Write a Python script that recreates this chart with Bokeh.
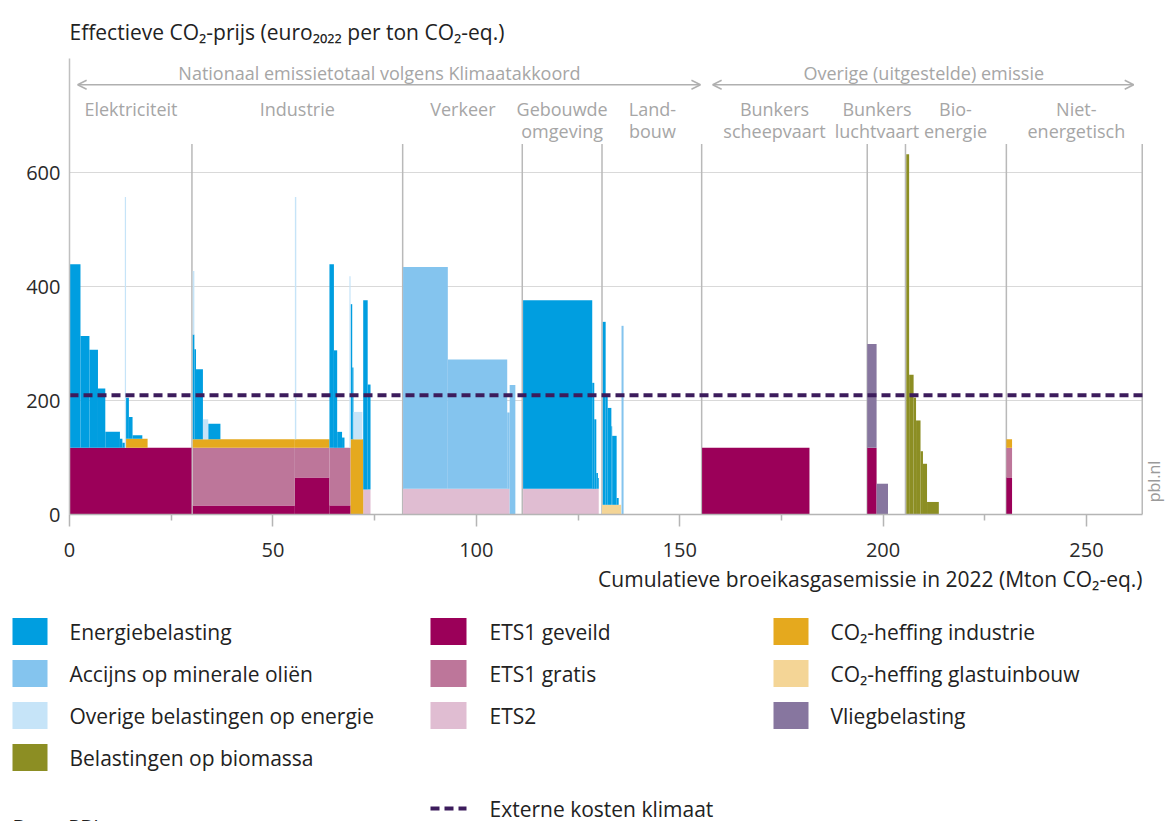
from bokeh.plotting import figure
from bokeh.models import Range1d, Arrow, OpenHead, FixedTicker
from bokeh.embed import file_html
from bokeh.resources import INLINE
from bokeh.core.properties import value

FONT = "Open Sans"

# ---------------- data: (start Mton, end Mton, effective price euro/t CO2-eq) ----------------
ets1_geveild = [(0.0, 30.0, 117), (30.3, 55.4, 16), (55.4, 63.9, 65), (63.9, 69.1, 16),
                (155.5, 181.9, 117), (196.1, 198.4, 117), (230.3, 231.7, 65)]
ets1_gratis = [(30.3, 55.4, 101), (55.4, 63.9, 52), (63.9, 69.1, 101), (230.3, 231.7, 52)]
ets2 = [(72.2, 74.0, 44), (82.0, 108.2, 45), (111.5, 130.1, 45)]
co2_heffing_industrie = [(13.9, 19.2, 16), (30.3, 63.9, 15), (69.1, 72.2, 132), (230.3, 231.7, 15)]
co2_heffing_glastuinbouw = [(130.9, 135.6, 17)]
vliegbelasting = [(196.1, 198.4, 182), (198.4, 201.2, 54)]
energiebelasting = [
    (0.0, 2.7, 322), (2.7, 4.9, 196), (4.9, 7.0, 172), (7.0, 8.8, 104), (8.8, 12.4, 28),
    (12.4, 13.0, 16), (13.0, 13.6, 9), (13.9, 14.6, 72), (14.6, 15.5, 38), (15.5, 17.9, 6),
    (30.3, 30.7, 184), (30.7, 31.1, 158), (31.1, 32.8, 123), (34.1, 37.1, 27),
    (63.9, 65.0, 322), (65.0, 65.8, 171), (65.8, 67.0, 28), (67.0, 67.6, 18),
    (69.1, 69.5, 237), (69.5, 69.8, 126), (72.2, 73.3, 332), (73.3, 74.0, 184),
    (111.5, 128.5, 331), (128.5, 129.0, 186), (129.0, 129.5, 122), (129.5, 129.9, 28),
    (129.9, 130.1, 19),
    (131.1, 131.8, 321), (131.8, 132.3, 194), (132.3, 133.2, 170), (133.2, 133.4, 138),
    (133.4, 134.5, 121), (134.5, 135.0, 12),
]
accijns_minerale_olien = [(82.0, 93.0, 389), (93.0, 107.6, 227), (107.6, 108.2, 134),
                          (108.2, 109.6, 227), (135.7, 136.2, 331)]
overige_belastingen = [(13.6, 13.9, 440), (30.3, 30.7, 111), (32.8, 34.1, 35),
                       (55.4, 55.75, 425), (68.8, 69.1, 301), (69.8, 72.0, 48)]
belastingen_biomassa = [(205.7, 206.4, 632), (206.4, 207.5, 245), (207.5, 208.1, 205),
                        (208.1, 209.2, 165), (209.2, 209.8, 111), (209.8, 210.8, 89),
                        (210.8, 213.7, 22)]
externe_kosten_klimaat = 209

x_end = 263.8          # right end of the axis (Mton)
y_end = 800            # top of the axis (euro)
sector_bounds = [30.1, 81.9, 111.3, 130.9, 155.4, 196.1, 205.5, 230.3, 263.7]
sector_line1 = ["Elektriciteit", "Industrie", "Verkeer", "Gebouwde", "Land-", "Bunkers",
                "Bunkers", "Bio-", "Niet-"]
sector_line2 = ["", "", "", "omgeving", "bouw", "scheepvaart", "luchtvaart", "energie",
                "energetisch"]
sector_center = [15.1, 56.0, 96.7, 121.1, 143.3, 173.3, 198.5, 217.8, 247.5]
group_labels = ["Nationaal emissietotaal volgens Klimaatakkoord", "Overige (uitgestelde) emissie"]
group_center = [76.2, 210.0]
group_span = [(2.0, 155.1), (158.1, 261.6)]

x_ticks = [0, 50, 100, 150, 200, 250]
x_minor = [25, 75, 125, 175, 225]
y_ticks = [0, 200, 400, 600]
grid_ticks = [200, 400, 600]

# stacking order (bottom to top), legend label, colour
series = [
    ("ETS1 geveild", ets1_geveild, "#9b0059"),
    ("ETS1 gratis", ets1_gratis, "#bd769a"),
    ("ETS2", ets2, "#e0bdd2"),
    ("CO₂-heffing industrie", co2_heffing_industrie, "#e5a91e"),
    ("CO₂-heffing glastuinbouw", co2_heffing_glastuinbouw, "#f4d596"),
    ("Vliegbelasting", vliegbelasting, "#87769f"),
    ("Energiebelasting", energiebelasting, "#009ee0"),
    ("Accijns op minerale oliën", accijns_minerale_olien, "#84c4ee"),
    ("Overige belastingen op energie", overige_belastingen, "#c6e4f8"),
    ("Belastingen op biomassa", belastingen_biomassa, "#8c8e23"),
]
color_of = {name: c for name, _, c in series}

W = 1167
PX_X = 4.068   # px per Mton
PX_Y = 0.57    # px per euro
FRAME_L, FRAME_B = 69, 514
H1 = 565
p = figure(width=W, height=H1,
           x_range=Range1d(0, (W - FRAME_L) / PX_X), y_range=Range1d(0, FRAME_B / PX_Y),
           output_backend="svg", toolbar_location=None,
           min_border_left=FRAME_L, min_border_right=0, min_border_top=0,
           min_border_bottom=H1 - FRAME_B)
p.outline_line_color = None
p.grid.grid_line_color = None

p.xaxis.bounds = (0, x_end)
p.xaxis.ticker = FixedTicker(ticks=x_ticks, minor_ticks=x_minor)
p.xaxis.major_tick_out = 12
p.xaxis.major_tick_in = 0
p.xaxis.minor_tick_out = 6
p.xaxis.minor_tick_in = 0
p.xaxis.axis_line_color = "#b5b5b5"
p.xaxis.axis_line_width = 1.5
p.xaxis.major_tick_line_color = "#b5b5b5"
p.xaxis.minor_tick_line_color = "#b5b5b5"
p.xaxis.major_tick_line_width = 1.5
p.xaxis.minor_tick_line_width = 1.5
p.xaxis.major_label_standoff = 16

p.yaxis.bounds = (0, y_end)
p.yaxis.ticker = FixedTicker(ticks=y_ticks)
p.yaxis.major_tick_out = 0
p.yaxis.major_tick_in = 0
p.yaxis.minor_tick_line_color = None
p.yaxis.major_tick_line_color = None
p.yaxis.axis_line_color = "#c0c0c0"
p.yaxis.axis_line_width = 1.5
p.yaxis.major_label_standoff = 9
for ax in (p.xaxis, p.yaxis):
    ax.major_label_text_font = FONT
    ax.major_label_text_font_size = "20px"
    ax.major_label_text_color = "#2a2a2a"

# horizontal grid lines and sector separators (behind bars)
p.segment(x0=[0] * len(grid_ticks), x1=[x_end] * len(grid_ticks), y0=grid_ticks, y1=grid_ticks,
          line_color="#d9d9d9", line_width=1.2)
p.segment(x0=sector_bounds, x1=sector_bounds, y0=[0] * len(sector_bounds),
          y1=[650] * len(sector_bounds), line_color="#b9b9b9", line_width=1.5)

# stacked step bars
placed = []


def stack_height(xm):
    h = 0
    for a, b, t in placed:
        if a <= xm < b:
            h = max(h, t)
    return h


for name, ivs, color in series:
    L, R, B, T = [], [], [], []
    for x0, x1, v in ivs:
        cuts = sorted(set([x0, x1] + [c for a, b, _ in placed for c in (a, b) if x0 < c < x1]))
        for a, b in zip(cuts[:-1], cuts[1:]):
            base = stack_height((a + b) / 2)
            L.append(a); R.append(b); B.append(base); T.append(base + v)
    placed.extend(zip(L, R, T))
    p.quad(left=L, right=R, bottom=B, top=T, fill_color=color, line_color=None)

p.segment(x0=[0], x1=[x_end], y0=[externe_kosten_klimaat], y1=[externe_kosten_klimaat],
          line_color="#3c1c5c", line_width=4, line_dash="9 5")

# sector labels
gray = "#a6a6a6"
p.text(x=sector_center, y=[712] * len(sector_center), text=sector_line1,
       text_font=value(FONT), text_font_size="18px", text_color=gray,
       text_align="center", text_baseline="middle")
p.text(x=sector_center, y=[672] * len(sector_center), text=sector_line2,
       text_font=value(FONT), text_font_size="18px", text_color=gray,
       text_align="center", text_baseline="middle")
p.text(x=group_center, y=[774, 774], text=group_labels,
       text_font=value(FONT), text_font_size="18px", text_color=gray,
       text_align="center", text_baseline="middle")
for xs, xe in group_span:
    p.add_layout(Arrow(start=OpenHead(size=9, line_color="#b0b0b0", line_width=1.5),
                       end=OpenHead(size=9, line_color="#b0b0b0", line_width=1.5),
                       x_start=xs, y_start=754, x_end=xe, y_end=754,
                       line_color="#b0b0b0", line_width=1.5))

# title (top-left) and source mark (right side)
p.text(x=[0], y=[847], text=["Effectieve CO₂-prijs (euro₂₀₂₂ per ton CO₂-eq.)"],
       text_font=value(FONT), text_font_size="21px", text_color="#222222",
       text_align="left", text_baseline="middle")
p.text(x=[266.7], y=[58], text=["pbl.nl"], angle=90, angle_units="deg",
       text_font=value(FONT), text_font_size="16px", text_color="#9a9a9a",
       text_align="center", text_baseline="middle")

# ---------------- footer figure: x-axis title + legend (page pixel coordinates) ----------------
H2 = 821 - H1
lg = figure(width=W, height=H2, x_range=Range1d(0, W), y_range=Range1d(H2, 0),
            output_backend="svg", toolbar_location=None, x_axis_location=None,
            y_axis_location=None, min_border=0, min_border_left=0, min_border_right=0,
            min_border_top=0, min_border_bottom=0)
lg.outline_line_color = None
lg.grid.visible = False

lg.text(x=[1142], y=[13], text=["Cumulatieve broeikasgasemissie in 2022 (Mton CO₂-eq.)"],
        text_font=value(FONT), text_font_size="21px", text_color="#222222",
        text_align="right", text_baseline="middle")

legend_cols = [
    ["Energiebelasting", "Accijns op minerale oliën", "Overige belastingen op energie",
     "Belastingen op biomassa"],
    ["ETS1 geveild", "ETS1 gratis", "ETS2"],
    ["CO₂-heffing industrie", "CO₂-heffing glastuinbouw", "Vliegbelasting"],
]
col_swatch = [(12, 47), (430, 466), (773, 808)]
col_text = [69, 489, 830]
row_y = [66, 108, 150, 192]
SL, SR, ST, SB, SC, TX, TY, TT = [], [], [], [], [], [], [], []
for ci, names in enumerate(legend_cols):
    for ri, nm in enumerate(names):
        SL.append(col_swatch[ci][0]); SR.append(col_swatch[ci][1])
        ST.append(row_y[ri] - 13.5); SB.append(row_y[ri] + 13.5)
        SC.append(color_of[nm])
        TX.append(col_text[ci]); TY.append(row_y[ri]); TT.append(nm)
lg.quad(left=SL, right=SR, top=ST, bottom=SB, fill_color=SC, line_color=None)
ext_y = 243
lg.segment(x0=[430], x1=[466], y0=[ext_y], y1=[ext_y], line_color="#3c1c5c",
           line_width=4, line_dash="9 5")
TX.append(489); TY.append(ext_y); TT.append("Externe kosten klimaat")
lg.text(x=TX, y=TY, text=TT, text_font=value(FONT), text_font_size="21px",
        text_color="#222222", text_baseline="middle")
lg.text(x=[12], y=[261], text=["Bron: PBL"], text_font=value(FONT), text_font_size="20px",
        text_color="#222222", text_baseline="middle")

# two independent roots, stacked on the page (keeps the footer frame full-width)
open("out.html", "w").write(file_html([p, lg], INLINE))
